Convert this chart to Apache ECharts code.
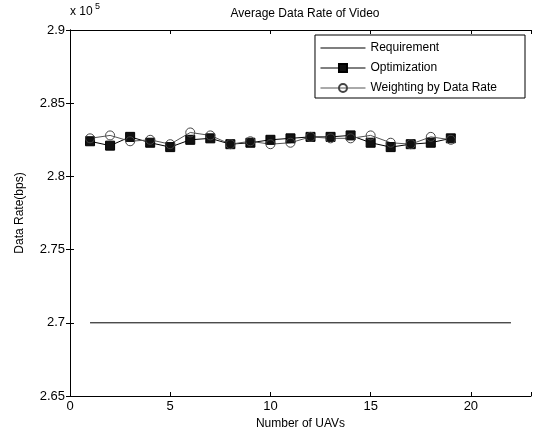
<!DOCTYPE html>
<html>
<head>
<meta charset="utf-8">
<script src="https://cdn.jsdelivr.net/npm/echarts@6/dist/echarts.min.js"></script>
<style>html,body{margin:0;padding:0;background:#fff}#c{width:534px;height:437px}</style>
</head>
<body>
<div id="c"></div>
<script>
var uavs = [1,2,3,4,5,6,7,8,9,10,11,12,13,14,15,16,17,18,19];
var requirementX = [1, 22];
var requirementY = [2.7, 2.7];
var optimization = [2.824,2.821,2.827,2.823,2.820,2.825,2.826,2.822,2.823,2.825,2.826,2.827,2.827,2.828,2.823,2.820,2.822,2.823,2.826];
var weighting = [2.826,2.828,2.824,2.825,2.822,2.830,2.828,2.822,2.824,2.822,2.823,2.827,2.826,2.826,2.828,2.823,2.822,2.827,2.825];
var xTicks = [0,5,10,15,20];
var yTicks = [2.65,2.7,2.75,2.8,2.85,2.9];

var FONT = 'Liberation Sans, Arial, sans-serif';
var chart = echarts.init(document.getElementById('c'), null, {renderer:'canvas'});
function pairs(xs, ys){ return xs.map(function(x,i){return [x, ys[i]];}); }
var axisCommon = {
  axisLine:{show:true, lineStyle:{color:'#000', width:1}},
  axisTick:{show:true, inside:true, length:4, lineStyle:{color:'#000'}},
  splitLine:{show:false}
};
chart.setOption({
  animation:false,
  backgroundColor:'#fff',
  title:{text:'Average Data Rate of Video', left:300, top:3, textAlign:'center',
    textStyle:{fontFamily:FONT, fontSize:12, fontWeight:'normal', color:'#000'}},
  grid:{left:70, right:2, top:30, bottom:41},
  legend:{
    orient:'vertical', right:9, top:35,
    backgroundColor:'#fff', borderColor:'#000', borderWidth:1,
    padding:[7,28,4,5], itemGap:8, itemWidth:45, itemHeight:10,
    lineStyle:{width:1},
    textStyle:{fontFamily:FONT, fontSize:12, color:'#000'},
    data:[
      {name:'Requirement', icon:'path://M0,4 L45,4 L45,5 L0,5 Z'},
      'Optimization',
      'Weighting by Data Rate'
    ]
  },
  xAxis:[
    Object.assign({type:'value', min:0, max:23, interval:5, position:'bottom',
      axisLabel:{fontFamily:FONT, fontSize:13, color:'#000', margin:4,
        formatter:function(v){return xTicks.indexOf(v)>=0 ? String(v) : '';}},
      name:'Number of UAVs', nameLocation:'middle', nameGap:22,
      nameTextStyle:{fontFamily:FONT, fontSize:12, color:'#000'}}, axisCommon),
    Object.assign({type:'value', min:0, max:23, interval:5, position:'top',
      axisLabel:{show:false}}, axisCommon)
  ],
  yAxis:[
    Object.assign({type:'value', min:2.65, max:2.9, interval:0.05, position:'left',
      axisLabel:{fontFamily:FONT, fontSize:13, color:'#000', margin:5,
        formatter:function(v){var r=Math.round(v*100)/100; return yTicks.indexOf(r)>=0 ? String(r) : '';}},
      name:'Data Rate(bps)', nameLocation:'middle', nameGap:44, nameRotate:90,
      nameTextStyle:{fontFamily:FONT, fontSize:12, color:'#000'}}, axisCommon),
    Object.assign({type:'value', min:2.65, max:2.9, interval:0.05, position:'right',
      axisLabel:{show:false}}, axisCommon)
  ],
  graphic:[
    {type:'text', left:70, top:6, style:{text:'x 10', fontFamily:FONT, fontSize:12, fill:'#000'}},
    {type:'text', left:95, top:2, style:{text:'5', fontFamily:FONT, fontSize:9, fill:'#000'}}
  ],
  series:[
    {name:'Requirement', type:'line', data:pairs(requirementX, requirementY),
      symbol:'none', lineStyle:{color:'#000', width:1}, itemStyle:{color:'#000'}},
    {name:'Optimization', type:'line', data:pairs(uavs, optimization),
      symbol:'rect', symbolSize:9, lineStyle:{color:'#000', width:1},
      itemStyle:{color:'#111', borderColor:'#000', borderWidth:1}},
    {name:'Weighting by Data Rate', type:'line', data:pairs(uavs, weighting),
      symbol:'circle', symbolSize:9, lineStyle:{color:'#555', width:1},
      itemStyle:{color:'rgba(255,255,255,0)', borderColor:'#444', borderWidth:1}}
  ]
});
</script>
</body>
</html>
